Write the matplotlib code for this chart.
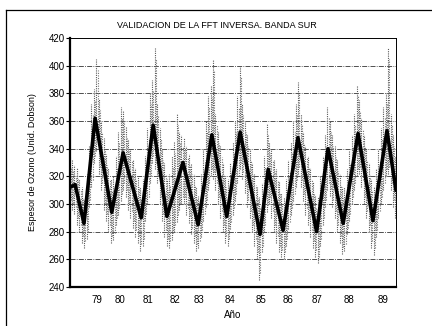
import numpy as np
import matplotlib
matplotlib.use("Agg")
import matplotlib.pyplot as plt
from matplotlib.lines import Line2D

# thick line: inverse FFT reconstruction (year, Dobson units), turning points
fft_years = [78.89, 79.065, 79.37, 79.75, 80.32, 80.71, 81.33, 81.74, 82.21, 82.76,
             83.28, 83.75, 84.26, 84.72, 85.40, 85.68, 86.19, 86.70, 87.34, 87.73,
             88.25, 88.76, 89.27, 89.75, 90.06]
fft_values = [312, 314, 286, 362, 294, 337, 290, 357, 291, 330,
              285, 350, 291, 352, 278, 325, 281, 348, 280, 340,
              286, 351, 288, 353, 310]

# measured data: monthly spread (low / high), starting Nov 1978
month0 = 78.875
data_low = [298, 296, 293, 285, 280, 272, 268, 275, 298, 312, 330, 338,
            322, 310, 296, 288, 280, 272, 274, 285, 292, 302, 310, 305,
            296, 290, 283, 276, 272, 266, 270, 288, 300, 315, 330, 325,
            315, 300, 288, 276, 270, 268, 274, 280, 287, 296, 300, 300,
            292, 286, 278, 272, 266, 268, 276, 288, 298, 310, 320, 318,
            310, 300, 290, 280, 272, 270, 282, 292, 302, 315, 325, 318,
            308, 298, 290, 280, 270, 260, 245, 265, 280, 294, 300, 290,
            280, 272, 265, 262, 260, 270, 282, 292, 302, 312, 322, 312,
            302, 292, 285, 276, 268, 262, 257, 270, 285, 298, 310, 306,
            298, 290, 280, 272, 264, 266, 278, 288, 300, 310, 320, 322,
            312, 300, 290, 280, 268, 263, 276, 290, 300, 310, 320, 322,
            310, 298, 290]
data_high = [335, 332, 328, 326, 318, 312, 303, 322, 342, 372, 383, 405,
             376, 360, 348, 336, 326, 318, 320, 335, 352, 370, 368, 356,
             346, 340, 332, 326, 320, 312, 318, 335, 355, 380, 390, 413,
             372, 355, 340, 330, 318, 322, 335, 345, 365, 352, 350, 348,
             342, 336, 330, 322, 312, 306, 322, 340, 360, 378, 385, 405,
             365, 352, 342, 330, 320, 318, 330, 345, 360, 378, 400, 372,
             360, 350, 340, 330, 322, 312, 305, 315, 335, 358, 345, 340,
             332, 325, 316, 308, 305, 318, 332, 345, 360, 372, 388, 365,
             352, 342, 335, 326, 316, 306, 305, 320, 335, 350, 370, 360,
             350, 342, 332, 322, 312, 312, 325, 338, 350, 365, 386, 375,
             362, 350, 340, 330, 318, 312, 325, 340, 355, 370, 380, 413,
             365, 350, 335]

yticks = [240, 260, 280, 300, 320, 340, 360, 380, 400, 420]
year_labels = ["79", "80", "81", "82", "83", "84", "85", "86", "87", "88", "89"]
label_pos = [79.82, 80.61, 81.57, 82.49, 83.31, 84.37, 85.43, 86.36, 87.35, 88.45, 89.61]

font = ["Liberation Sans Narrow", "Liberation Sans", "DejaVu Sans"]
plt.rcParams["font.family"] = font

fig = plt.figure(figsize=(4.32, 3.26), dpi=100)
ax = fig.add_axes([70 / 432, 39 / 326, 326 / 432, 249 / 326])

months = month0 + np.arange(len(data_low)) / 12.0
lo = np.array(data_low)
hi = np.array(data_high)
ax.vlines(months, lo, hi, colors="0.35", linewidth=0.8,
          linestyles=(0, (1, 1)), zorder=2)
ax.vlines(months + 1 / 24.0, lo + 5, hi - 8,
          colors="0.45", linewidth=0.8, linestyles=(0, (1, 1.3)), zorder=2)
ax.plot(fft_years, fft_values, color="black", linewidth=2.6, zorder=3)

ax.set_xlim(78.89, 90.06)
ax.set_ylim(240, 420)
ax.set_yticks(yticks)
ax.set_yticklabels([str(v) for v in yticks], fontsize=7)
ax.set_xticks(label_pos)
ax.set_xticklabels(year_labels, fontsize=7)
ax.tick_params(axis="x", length=0, pad=6)
ax.tick_params(axis="y", length=3, width=0.8, pad=1)

for v in yticks[1:-1]:
    ax.axhline(v, color="0.2", linewidth=0.6, linestyle=(0, (6, 1.5, 1, 1.5)), zorder=1)

ax.spines["left"].set_linewidth(1.6)
ax.spines["bottom"].set_linewidth(1.6)
ax.spines["top"].set_linewidth(0.7)
ax.spines["top"].set_linestyle((0, (4, 1)))
ax.spines["right"].set_linewidth(0.7)
ax.spines["right"].set_linestyle((0, (2, 1)))

ax.set_ylabel("Espesor de Ozono (Unid. Dobson)", fontsize=6.5, labelpad=8)
ax.set_xlabel("Año", fontsize=7, labelpad=3)
fig.text(217 / 432, 1 - 25 / 326, "VALIDACION DE LA FFT INVERSA. BANDA SUR",
         fontsize=6.5, ha="center", va="center")

# scanned page frame
fig.add_artist(Line2D([6 / 432, 6 / 432], [0, 1 - 10 / 326], color="black", linewidth=0.9))
fig.add_artist(Line2D([6 / 432, 1], [1 - 10 / 326, 1 - 10 / 326], color="black", linewidth=0.9))

fig.savefig("out.png", dpi=100)
